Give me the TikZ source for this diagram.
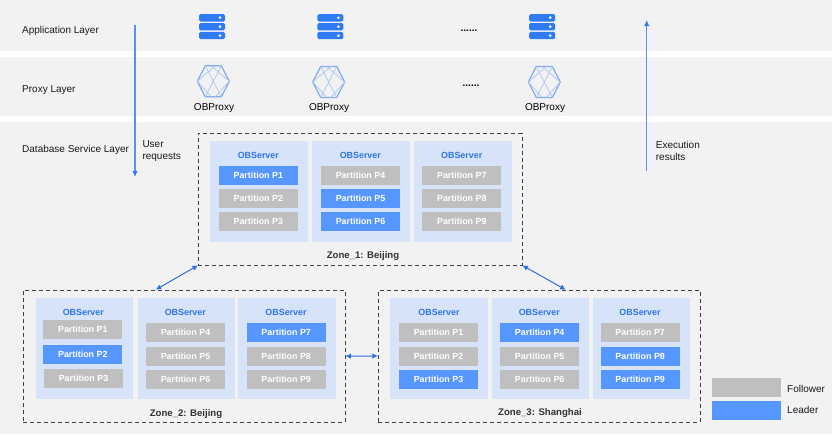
\documentclass[tikz,border=0pt]{standalone}
\usepackage{fontspec}
\setmainfont{Liberation Sans}
\usetikzlibrary{arrows.meta}
\definecolor{bandgray}{HTML}{F2F2F2}
\definecolor{followergray}{HTML}{BFBFBF}
\definecolor{leaderblue}{HTML}{5596FF}
\definecolor{serverblue}{HTML}{D6E3F8}
\definecolor{titleblue}{HTML}{2E75E8}
\definecolor{iconblue}{HTML}{2F7BF5}
\definecolor{hexblue}{HTML}{7FABEE}
\definecolor{hexlight}{HTML}{A9C6F2}
\definecolor{flowblue}{HTML}{5B90E6}
\definecolor{linkblue}{HTML}{2E6FE0}
\definecolor{zonegray}{HTML}{404040}
\tikzset{
  layertext/.style={anchor=west,inner sep=0pt,font=\fontsize{10}{12}\selectfont,text=black!90,align=left},
  partbox/.style={minimum width=79pt,minimum height=19pt,inner sep=0pt,text=white,font=\fontsize{8.9}{10}\selectfont\bfseries},
  follower/.style={partbox,fill=followergray},
  leader/.style={partbox,fill=leaderblue},
  serverbox/.style={fill=serverblue,minimum width=97.5pt,minimum height=101pt,inner sep=0pt},
  servertitle/.style={inner sep=0pt,text=titleblue,font=\fontsize{8.9}{10}\selectfont\bfseries},
  zonebox/.style={draw=zonegray,line width=0.8pt,dash pattern=on 4pt off 3pt,inner sep=0pt},
  zonetitle/.style={inner sep=0pt,text=black!80,font=\fontsize{9.6}{11}\selectfont\bfseries},
  flow/.style={draw=flowblue,line width=1.2pt,-{Latex[length=6pt,width=5.5pt,color=iconblue]}},
  zonelink/.style={draw=linkblue,line width=1pt,{Latex[length=5.5pt,width=5.5pt]}-{Latex[length=5.5pt,width=5.5pt]}},
  serverstack/.pic={
    \fill[iconblue,rounded corners=1.5pt] (-13,-12.5) rectangle (13,-5.2);
    \fill[iconblue,rounded corners=1.5pt] (-13,-3.7) rectangle (13,3.7);
    \fill[iconblue,rounded corners=1.5pt] (-13,5.2) rectangle (13,12.5);
    \fill[white] (8,-9) circle (1.5pt);
    \fill[white] (8,0) circle (1.5pt);
    \fill[white] (8,9) circle (1.5pt);
  },
  hexproxy/.pic={
    \draw[hexblue,line width=1.2pt,line join=round] (-16,0) -- (-8,-15.5) -- (8,-15.5) -- (16,0) -- (8,15.5) -- (-8,15.5) -- cycle;
    \draw[hexlight,line width=0.7pt] (-16,0) -- (2,-15.5) (-16,0) -- (-2,15.5) (16,0) -- (-2,-15.5) (16,0) -- (2,15.5) (-8,-15.5) -- (8,15.5) (8,-15.5) -- (-8,15.5);
  }
}
\begin{document}
\begin{tikzpicture}[x=1pt,y=-1pt]
\useasboundingbox (0,0) rectangle (832,434);
\fill[bandgray] (0,0) rectangle (832,434);
\fill[white] (0,51) rectangle (832,57);
\fill[white] (0,116) rectangle (832,122);
\node[layertext] (applayer) at (22,30.7) {Application Layer};
\node[layertext] (proxylayer) at (22,89.7) {Proxy Layer};
\node[layertext] (dblayer) at (22,149.7) {Database Service Layer};
\pic at (212,26.7) {serverstack};
\pic at (330.3,26.7) {serverstack};
\pic at (542.2,26.7) {serverstack};
\pic at (213.3,81.3) {hexproxy};
\pic at (328.7,82) {hexproxy};
\pic at (544.3,82) {hexproxy};
\node[inner sep=0pt,font=\fontsize{10}{12}\selectfont] (proxya) at (214,107.8) {OBProxy};
\node[inner sep=0pt,font=\fontsize{10}{12}\selectfont] (proxyb) at (329,107.8) {OBProxy};
\node[inner sep=0pt,font=\fontsize{10}{12}\selectfont] (proxyc) at (545,107.8) {OBProxy};
\node[inner sep=0pt,anchor=base,font=\fontsize{10}{12}\selectfont\bfseries] (dotsa) at (469,31) {......};
\node[inner sep=0pt,anchor=base,font=\fontsize{10}{12}\selectfont\bfseries] (dotsb) at (471,86) {......};
\coordinate (reqtop) at (135,25);
\coordinate (reqend) at (135,177);
\draw[flow] (reqtop) -- (reqend);
\coordinate (restop) at (646.7,20);
\coordinate (resend) at (646.7,171);
\draw[flow] (resend) -- (restop);
\node[layertext] (reqtext) at (142.3,150.8) {User\\requests};
\node[layertext] (restext) at (655.7,150.8) {Execution\\results};
\node[zonebox,minimum width=323.7pt,minimum height=131.7pt] (zonea) at (360.2,199.2) {};
\node[zonebox,minimum width=321.7pt,minimum height=132.3pt] (zoneb) at (184.2,356.2) {};
\node[zonebox,minimum width=321.7pt,minimum height=132pt] (zonec) at (539.2,356) {};
\node[serverbox] (sa) at (259.2,191.3) {};
\node[serverbox] (sb) at (361.2,191.3) {};
\node[serverbox] (sc) at (462.9,191.3) {};
\node[servertitle] (sat) at (258.3,155) {OBServer};
\node[servertitle] (sbt) at (360.3,155) {OBServer};
\node[servertitle] (sct) at (461.7,155) {OBServer};
\node[leader] (aone) at (258.3,175.5) {Partition P1};
\node[follower] (atwo) at (258.3,198.8) {Partition P2};
\node[follower] (athree) at (258.3,221.7) {Partition P3};
\node[follower] (afour) at (360.5,175.5) {Partition P4};
\node[leader] (afive) at (360.5,198.8) {Partition P5};
\node[leader] (asix) at (360.5,221.7) {Partition P6};
\node[follower] (aseven) at (461.8,175.5) {Partition P7};
\node[follower] (aeight) at (461.8,198.8) {Partition P8};
\node[follower] (anine) at (461.8,221.7) {Partition P9};
\node[zonetitle] (zonealabel) at (363,256.3) {Zone\_1: Beijing};
\node[serverbox] (sd) at (84.5,348.7) {};
\node[serverbox] (se) at (186.5,348.7) {};
\node[serverbox] (sf) at (287,348.7) {};
\node[servertitle] (sdt) at (83.3,312) {OBServer};
\node[servertitle] (set) at (185.3,312) {OBServer};
\node[servertitle] (sft) at (286,312) {OBServer};
\node[follower] (bone) at (82.8,329.5) {Partition P1};
\node[leader] (btwo) at (82.8,354.8) {Partition P2};
\node[follower] (bthree) at (83.5,378.5) {Partition P3};
\node[follower] (bfour) at (185.5,332.8) {Partition P4};
\node[follower] (bfive) at (185.5,356.5) {Partition P5};
\node[follower] (bsix) at (185.5,379.5) {Partition P6};
\node[leader] (bseven) at (286.2,332.8) {Partition P7};
\node[follower] (beight) at (286.2,356.5) {Partition P8};
\node[follower] (bnine) at (286.2,379.5) {Partition P9};
\node[zonetitle] (zoneblabel) at (186,413.9) {Zone\_2: Beijing};
\node[serverbox] (sg) at (439.2,348.5) {};
\node[serverbox] (sh) at (540.3,348.5) {};
\node[serverbox] (si) at (641.3,348.5) {};
\node[servertitle] (sgt) at (439,312) {OBServer};
\node[servertitle] (sht) at (539.3,312) {OBServer};
\node[servertitle] (sit) at (640,312) {OBServer};
\node[follower] (cone) at (438.5,332.7) {Partition P1};
\node[follower] (ctwo) at (438.5,356) {Partition P2};
\node[leader] (cthree) at (438.5,379) {Partition P3};
\node[leader] (cfour) at (539.7,332.7) {Partition P4};
\node[follower] (cfive) at (539.7,356) {Partition P5};
\node[follower] (csix) at (539.7,379) {Partition P6};
\node[follower] (cseven) at (640.2,332.7) {Partition P7};
\node[leader] (ceight) at (640.2,356) {Partition P8};
\node[leader] (cnine) at (640.2,379) {Partition P9};
\node[zonetitle] (zoneclabel) at (540,413.3) {Zone\_3: Shanghai};
\coordinate (linkb) at (155.7,289.7);
\coordinate (linkc) at (565.7,289.7);
\draw[zonelink] (zonea.south west) -- (linkb);
\draw[zonelink] (zonea.south east) -- (linkc);
\draw[zonelink] (zoneb.east) -- (zonec.west);
\node[fill=followergray,minimum width=68.7pt,minimum height=19.3pt,inner sep=0pt] (legfollower) at (746.3,387.7) {};
\node[fill=leaderblue,minimum width=68.7pt,minimum height=19.3pt,inner sep=0pt] (legleader) at (746.3,410.7) {};
\node[layertext] (followertext) at (787,388.5) {Follower};
\node[layertext] (leadertext) at (787,410) {Leader};
\end{tikzpicture}
\end{document}
